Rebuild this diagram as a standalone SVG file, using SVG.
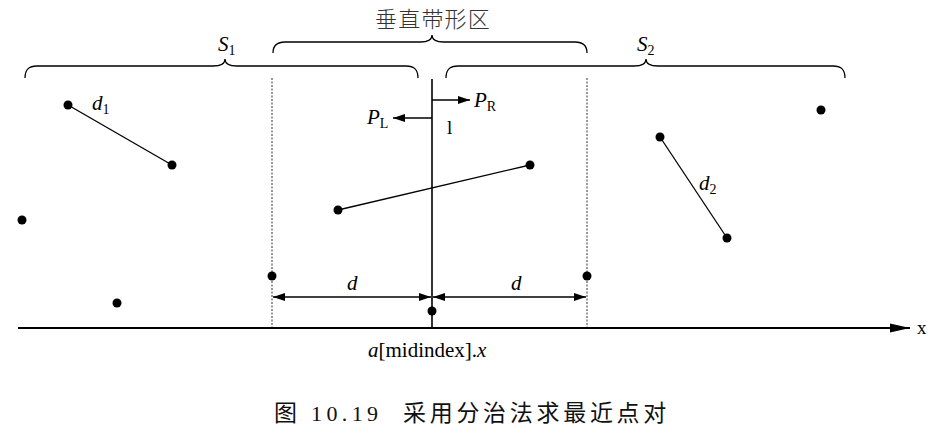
<svg xmlns="http://www.w3.org/2000/svg" width="939" height="435" viewBox="0 0 939 435">
<style>
.txt{font-family:"Liberation Serif","Noto Sans CJK SC",serif;fill:#000}
.it{font-style:italic}
.cjk{font-family:"Noto Sans CJK SC","Liberation Serif",sans-serif;fill:#333;font-weight:300}
.brace{fill:none;stroke:#000;stroke-width:1.3}
.seg{stroke:#000;stroke-width:1.3;fill:none}
.dot{fill:#000}
.dash{stroke:#555;stroke-width:1.2;stroke-dasharray:2 1.5}
</style>
<defs>
<marker id="ah" viewBox="0 0 12 8" refX="12" refY="4" markerWidth="12" markerHeight="8" markerUnits="userSpaceOnUse" orient="auto-start-reverse">
<path d="M0,0 L12,4 L0,8 Z" fill="#000"/>
</marker>
<marker id="axh" viewBox="0 0 20 10" refX="20" refY="5" markerWidth="20" markerHeight="10" markerUnits="userSpaceOnUse" orient="auto">
<path d="M0,0.5 L20,5 L0,9.5 Z" fill="#000"/>
</marker>
</defs>
<rect width="939" height="435" fill="#fff"/>

<g id="connectors">
<line x1="272" y1="78" x2="272" y2="328" class="dash"/>
<line x1="587" y1="78" x2="587" y2="328" class="dash"/>
<line x1="18" y1="328" x2="910" y2="328" stroke="#000" stroke-width="2.2" marker-end="url(#axh)"/>
<line x1="432" y1="79" x2="432" y2="328" stroke="#000" stroke-width="1.6"/>
<line x1="432" y1="100" x2="470" y2="100" class="seg" marker-end="url(#ah)"/>
<line x1="432" y1="118" x2="393" y2="118" class="seg" marker-end="url(#ah)"/>
<line x1="273" y1="297" x2="431" y2="297" class="seg" marker-start="url(#ah)" marker-end="url(#ah)"/>
<line x1="433" y1="297" x2="586" y2="297" class="seg" marker-start="url(#ah)" marker-end="url(#ah)"/>
<line x1="68" y1="105" x2="172" y2="165" class="seg"/>
<line x1="338" y1="210" x2="530" y2="165" class="seg"/>
<line x1="660" y1="137" x2="727" y2="238" class="seg"/>
</g>

<g id="brace-s1">
<path class="brace" d="M25,78 C25,70 28,66 37,66 L213,66 C221,66 225,64 225,59 C225,64 229,66 237,66 L406,66 C415,66 418,70 418,78"/>
<text class="txt it" x="218" y="51" font-size="21">S<tspan font-size="14" font-style="normal" dy="4">1</tspan></text>
</g>
<g id="brace-strip">
<path class="brace" d="M273,53 C273,46 276,42 285,42 L420,42 C428,42 432,40 432,35 C432,40 436,42 444,42 L575,42 C584,42 587,46 587,53"/>
<text class="cjk" x="433" y="27" font-size="22" text-anchor="middle" letter-spacing="1.2">垂直带形区</text>
</g>
<g id="brace-s2">
<path class="brace" d="M446,78 C446,70 449,66 458,66 L634,66 C642,66 646,64 646,59 C646,64 650,66 658,66 L833,66 C842,66 845,70 845,78"/>
<text class="txt it" x="637" y="51" font-size="21">S<tspan font-size="14" font-style="normal" dy="4">2</tspan></text>
</g>

<g id="points">
<circle class="dot" cx="68" cy="105" r="4.5"/>
<circle class="dot" cx="172" cy="165" r="4.5"/>
<circle class="dot" cx="22" cy="220" r="4.5"/>
<circle class="dot" cx="117" cy="303" r="4.5"/>
<circle class="dot" cx="272" cy="276" r="4.5"/>
<circle class="dot" cx="587" cy="276" r="4.5"/>
<circle class="dot" cx="432" cy="311" r="4.5"/>
<circle class="dot" cx="338" cy="210" r="4.5"/>
<circle class="dot" cx="530" cy="165" r="4.5"/>
<circle class="dot" cx="660" cy="137" r="4.5"/>
<circle class="dot" cx="727" cy="238" r="4.5"/>
<circle class="dot" cx="821" cy="110" r="4.5"/>
</g>

<g id="labels">
<text class="txt it" x="92" y="110" font-size="21">d<tspan font-size="14" font-style="normal" dy="4">1</tspan></text>
<text class="txt it" x="699" y="190" font-size="21">d<tspan font-size="14" font-style="normal" dy="4">2</tspan></text>
<text class="txt it" x="474" y="107" font-size="21">P<tspan font-size="14" font-style="normal" dy="4">R</tspan></text>
<text class="txt it" x="367" y="124" font-size="21">P<tspan font-size="14" font-style="normal" dy="4">L</tspan></text>
<text class="txt" x="447" y="134" font-size="19">l</text>
<text class="txt it" x="347" y="290" font-size="21">d</text>
<text class="txt it" x="511" y="290" font-size="21">d</text>
<text class="txt" x="368" y="357" font-size="21"><tspan font-style="italic">a</tspan>[midindex].<tspan font-style="italic">x</tspan></text>
<text class="txt" x="917" y="334" font-size="19">x</text>
<text class="cjk" x="274" y="421" font-size="23" style="fill:#111;font-weight:400">图<tspan font-family="Liberation Serif" font-size="22" x="311" letter-spacing="4.4">10.19</tspan><tspan x="403" letter-spacing="3.7">采用分治法求最近点对</tspan></text>
</g>
</svg>
